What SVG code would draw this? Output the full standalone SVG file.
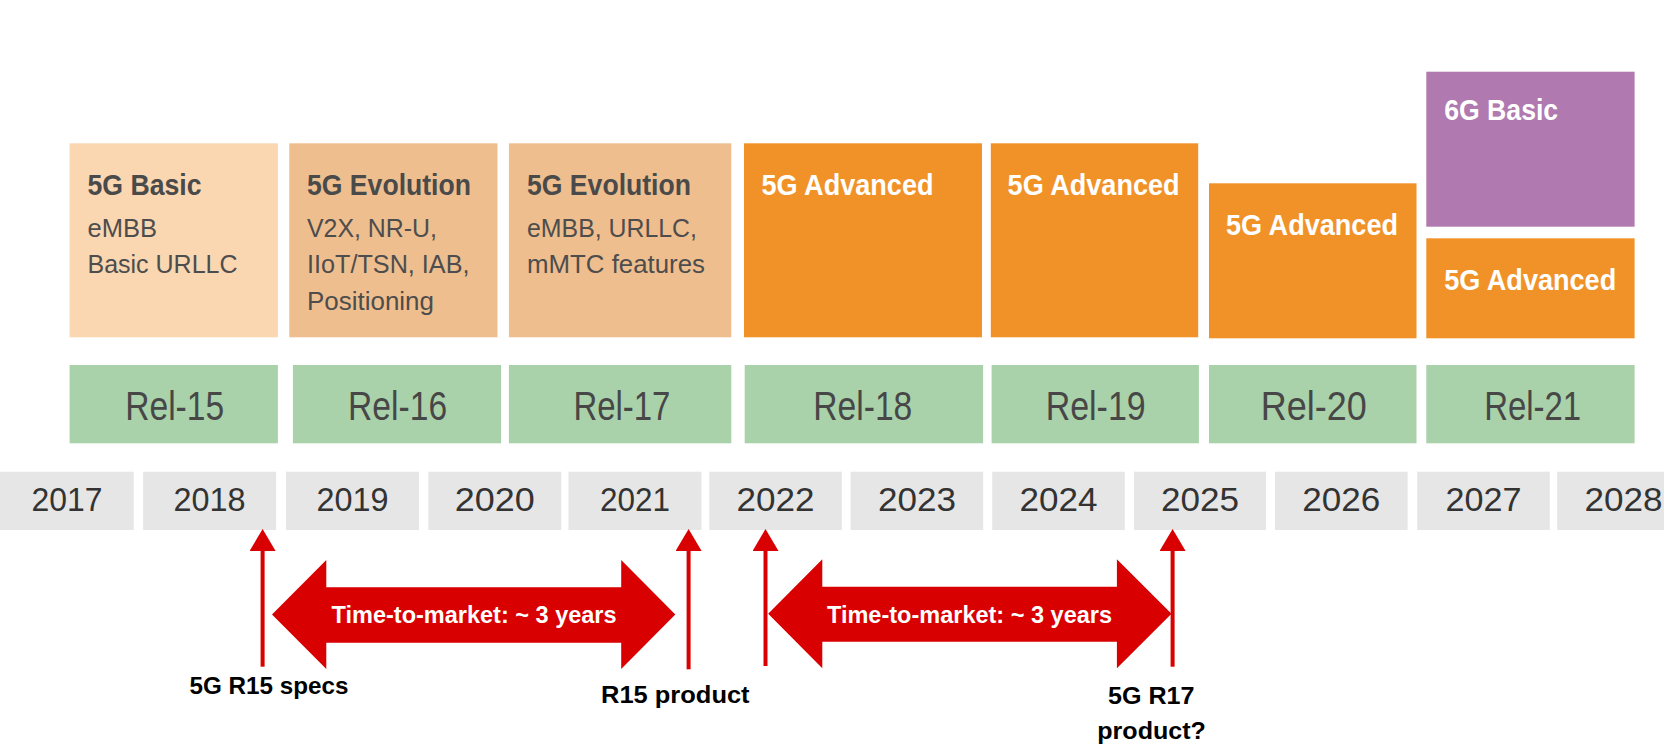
<svg xmlns="http://www.w3.org/2000/svg" width="1664" height="749" viewBox="0 0 1664 749">
<style>
.b1{fill:#fad6b1}
.b2{fill:#efbe8e}
.bo{fill:#f19228}
.bp{fill:#b07ab1}
.rel{fill:#aad2aa}
.yr{fill:#e6e6e6}
.t{font-family:"Liberation Sans",Arial,sans-serif;font-weight:bold;font-size:29.5px;fill:#4a4a4a}
.tw{font-family:"Liberation Sans",Arial,sans-serif;font-weight:bold;font-size:29.5px;fill:#ffffff}
.s{font-family:"Liberation Sans",Arial,sans-serif;font-size:25.5px;fill:#4d4d4d}
.rt{font-family:"Liberation Sans",Arial,sans-serif;font-size:40px;fill:#474747;text-anchor:middle}
.yt{font-family:"Liberation Sans",Arial,sans-serif;font-size:33px;fill:#333333;text-anchor:middle}
.red{fill:#d80000}
.vl{stroke:#d80000;stroke-width:4;fill:none}
.at{font-family:"Liberation Sans",Arial,sans-serif;font-weight:bold;font-size:24px;fill:#ffffff}
.lb{font-family:"Liberation Sans",Arial,sans-serif;font-weight:bold;font-size:24px;fill:#000000;text-anchor:middle}
</style>
<defs>
<marker id="ah" markerUnits="userSpaceOnUse" markerWidth="22" markerHeight="26" viewBox="0 0 22 26" refX="0" refY="13" orient="auto">
<path d="M0,0 L22,13 L0,26 z" fill="#d80000"/>
</marker>
</defs>
<rect width="1664" height="749" fill="#ffffff"/>

<g id="box-rel15-feat">
<rect class="b1" x="69.6" y="143.3" width="208.3" height="194"/>
<text class="t" x="87.5" y="195" textLength="114" lengthAdjust="spacingAndGlyphs">5G Basic</text>
<text class="s" x="87.5" y="236.7" textLength="69.6" lengthAdjust="spacingAndGlyphs">eMBB</text>
<text class="s" x="87.5" y="273.3" textLength="150" lengthAdjust="spacingAndGlyphs">Basic URLLC</text>
</g>
<g id="box-rel16-feat">
<rect class="b2" x="289.3" y="143.3" width="208.2" height="194"/>
<text class="t" x="307" y="195" textLength="164" lengthAdjust="spacingAndGlyphs">5G Evolution</text>
<text class="s" x="307" y="236.7" textLength="130" lengthAdjust="spacingAndGlyphs">V2X, NR-U,</text>
<text class="s" x="307" y="273.3" textLength="162.5" lengthAdjust="spacingAndGlyphs">IIoT/TSN, IAB,</text>
<text class="s" x="307" y="310" textLength="127" lengthAdjust="spacingAndGlyphs">Positioning</text>
</g>
<g id="box-rel17-feat">
<rect class="b2" x="508.9" y="143.3" width="222.4" height="194"/>
<text class="t" x="527" y="195" textLength="164" lengthAdjust="spacingAndGlyphs">5G Evolution</text>
<text class="s" x="527" y="236.7" textLength="170" lengthAdjust="spacingAndGlyphs">eMBB, URLLC,</text>
<text class="s" x="527" y="273.3" textLength="178" lengthAdjust="spacingAndGlyphs">mMTC features</text>
</g>
<g id="box-rel18-feat">
<rect class="bo" x="744" y="143.3" width="238" height="194"/>
<text class="tw" x="761.5" y="195" textLength="172" lengthAdjust="spacingAndGlyphs">5G Advanced</text>
</g>
<g id="box-rel19-feat">
<rect class="bo" x="990.8" y="143.3" width="207.4" height="194"/>
<text class="tw" x="1007.6" y="195" textLength="172" lengthAdjust="spacingAndGlyphs">5G Advanced</text>
</g>
<g id="box-rel20-feat">
<rect class="bo" x="1209" y="183.3" width="207.5" height="155"/>
<text class="tw" x="1226" y="235" textLength="172" lengthAdjust="spacingAndGlyphs">5G Advanced</text>
</g>
<g id="box-rel21-6g">
<rect class="bp" x="1426.3" y="71.7" width="208.3" height="155"/>
<text class="tw" x="1444.2" y="120" textLength="114" lengthAdjust="spacingAndGlyphs">6G Basic</text>
</g>
<g id="box-rel21-5g">
<rect class="bo" x="1426.3" y="238.3" width="208.3" height="100"/>
<text class="tw" x="1444.2" y="290" textLength="172" lengthAdjust="spacingAndGlyphs">5G Advanced</text>
</g>

<g id="rel15"><rect class="rel" x="69.6" y="365" width="208.3" height="78.3"/><text class="rt" x="174.7" y="420" textLength="99" lengthAdjust="spacingAndGlyphs">Rel-15</text></g>
<g id="rel16"><rect class="rel" x="292.9" y="365" width="208.2" height="78.3"/><text class="rt" x="397.6" y="420" textLength="99" lengthAdjust="spacingAndGlyphs">Rel-16</text></g>
<g id="rel17"><rect class="rel" x="508.9" y="365" width="222.4" height="78.3"/><text class="rt" x="621.9" y="420" textLength="97" lengthAdjust="spacingAndGlyphs">Rel-17</text></g>
<g id="rel18"><rect class="rel" x="744.7" y="365" width="238.4" height="78.3"/><text class="rt" x="862.8" y="420" textLength="99" lengthAdjust="spacingAndGlyphs">Rel-18</text></g>
<g id="rel19"><rect class="rel" x="991.6" y="365" width="207.3" height="78.3"/><text class="rt" x="1095.7" y="420" textLength="100" lengthAdjust="spacingAndGlyphs">Rel-19</text></g>
<g id="rel20"><rect class="rel" x="1209" y="365" width="207.5" height="78.3"/><text class="rt" x="1313.8" y="420" textLength="106" lengthAdjust="spacingAndGlyphs">Rel-20</text></g>
<g id="rel21"><rect class="rel" x="1426.3" y="365" width="208.3" height="78.3"/><text class="rt" x="1532.7" y="420" textLength="97" lengthAdjust="spacingAndGlyphs">Rel-21</text></g>

<g id="y2017"><rect class="yr" x="0" y="471.7" width="133.7" height="58.3"/><text class="yt" x="67" y="510.5" textLength="71" lengthAdjust="spacingAndGlyphs">2017</text></g>
<g id="y2018"><rect class="yr" x="143.1" y="471.7" width="133" height="58.3"/><text class="yt" x="209.6" y="510.5" textLength="72" lengthAdjust="spacingAndGlyphs">2018</text></g>
<g id="y2019"><rect class="yr" x="286" y="471.7" width="133" height="58.3"/><text class="yt" x="352.5" y="510.5" textLength="72" lengthAdjust="spacingAndGlyphs">2019</text></g>
<g id="y2020"><rect class="yr" x="428.3" y="471.7" width="133" height="58.3"/><text class="yt" x="494.8" y="510.5" textLength="80" lengthAdjust="spacingAndGlyphs">2020</text></g>
<g id="y2021"><rect class="yr" x="568.5" y="471.7" width="133" height="58.3"/><text class="yt" x="635" y="510.5" textLength="70" lengthAdjust="spacingAndGlyphs">2021</text></g>
<g id="y2022"><rect class="yr" x="709.3" y="471.7" width="132.5" height="58.3"/><text class="yt" x="775.5" y="510.5" textLength="78" lengthAdjust="spacingAndGlyphs">2022</text></g>
<g id="y2023"><rect class="yr" x="850.6" y="471.7" width="132.6" height="58.3"/><text class="yt" x="916.9" y="510.5" textLength="78" lengthAdjust="spacingAndGlyphs">2023</text></g>
<g id="y2024"><rect class="yr" x="992.2" y="471.7" width="132.6" height="58.3"/><text class="yt" x="1058.5" y="510.5" textLength="78" lengthAdjust="spacingAndGlyphs">2024</text></g>
<g id="y2025"><rect class="yr" x="1133.9" y="471.7" width="132.2" height="58.3"/><text class="yt" x="1200" y="510.5" textLength="78" lengthAdjust="spacingAndGlyphs">2025</text></g>
<g id="y2026"><rect class="yr" x="1275" y="471.7" width="132.6" height="58.3"/><text class="yt" x="1341.3" y="510.5" textLength="78" lengthAdjust="spacingAndGlyphs">2026</text></g>
<g id="y2027"><rect class="yr" x="1417.2" y="471.7" width="132.6" height="58.3"/><text class="yt" x="1483.5" y="510.5" textLength="76" lengthAdjust="spacingAndGlyphs">2027</text></g>
<g id="y2028"><rect class="yr" x="1557.2" y="471.7" width="140" height="58.3"/><text class="yt" x="1623.5" y="510.5" textLength="78" lengthAdjust="spacingAndGlyphs">2028</text></g>

<g id="connectors">
<line class="vl" x1="262.6" y1="666.7" x2="262.6" y2="551" marker-end="url(#ah)"/>
<line class="vl" x1="688.6" y1="669.3" x2="688.6" y2="551" marker-end="url(#ah)"/>
<line class="vl" x1="765.5" y1="666" x2="765.5" y2="551" marker-end="url(#ah)"/>
<line class="vl" x1="1172.6" y1="666.7" x2="1172.6" y2="551" marker-end="url(#ah)"/>
</g>

<g id="ttm1">
<polygon class="red" points="272,614.5 326.3,560 326.3,587.3 621.2,587.3 621.2,560 675.3,614.5 621.2,669 621.2,642.7 326.3,642.7 326.3,669"/>
<text class="at" x="331.6" y="623.3" textLength="285" lengthAdjust="spacingAndGlyphs">Time-to-market: ~ 3 years</text>
</g>
<g id="ttm2">
<polygon class="red" points="768.2,613.8 822.3,559.3 822.3,586.7 1116.9,586.7 1116.9,559.3 1171.5,613.8 1116.9,668.3 1116.9,641.7 822.3,641.7 822.3,668.3"/>
<text class="at" x="827" y="622.6" textLength="285" lengthAdjust="spacingAndGlyphs">Time-to-market: ~ 3 years</text>
</g>

<g id="lbl-r15-specs"><text class="lb" x="269" y="694.3" textLength="159" lengthAdjust="spacingAndGlyphs">5G R15 specs</text></g>
<g id="lbl-r15-product"><text class="lb" x="675.3" y="703.3" textLength="148.6" lengthAdjust="spacingAndGlyphs">R15 product</text></g>
<g id="lbl-r17-product"><text class="lb" x="1151.3" y="704.3" textLength="86.4" lengthAdjust="spacingAndGlyphs">5G R17</text><text class="lb" x="1151.6" y="739.3" textLength="108.7" lengthAdjust="spacingAndGlyphs">product?</text></g>
</svg>
